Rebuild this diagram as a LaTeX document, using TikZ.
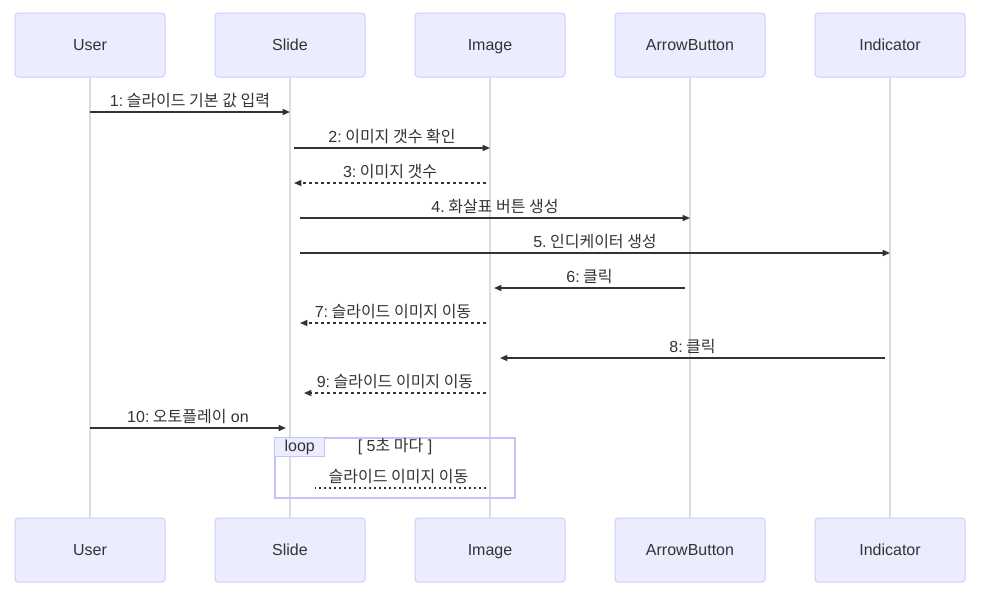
\documentclass[tikz,border=0pt]{standalone}
\usepackage{fontspec}
\setmainfont{Liberation Sans}
\newfontfamily\kr{Noto Sans CJK KR}
\usetikzlibrary{arrows.meta}
\definecolor{actfill}{HTML}{ECECFF}
\definecolor{actdraw}{HTML}{CCCCFF}
\definecolor{loopdraw}{HTML}{C4C4F8}
\definecolor{lifec}{HTML}{DDDDDD}
\definecolor{txt}{HTML}{333333}
\tikzset{
  actor/.style={draw=actdraw, fill=actfill, line width=0.75pt, rounded corners=2.5pt,
    minimum width=112.5pt, minimum height=48pt, inner sep=0pt, text=txt,
    text height=10.5pt, text depth=2pt},
  lifeline/.style={draw=lifec, line width=1.2pt},
  msg/.style={draw=txt, line width=1.1pt, -{Triangle[length=5.5pt,width=4.5pt]}},
  reply/.style={msg, dash pattern=on 2.25pt off 2.25pt},
  lbl/.style={midway, anchor=base, yshift=4.5pt, inner sep=0pt, text=txt},
}
\begin{document}
\begin{tikzpicture}[x=0.75pt, y=-0.75pt, font=\fontsize{12}{14}\selectfont]
\useasboundingbox (0,0) rectangle (982,594);
% actors
\node[actor] (uT) at (90,45) {User};
\node[actor] (sT) at (290,45) {Slide};
\node[actor] (iT) at (490,45) {Image};
\node[actor] (aT) at (690,45) {ArrowButton};
\node[actor] (nT) at (890,45) {Indicator};
\node[actor] (uB) at (90,550) {User};
\node[actor] (sB) at (290,550) {Slide};
\node[actor] (iB) at (490,550) {Image};
\node[actor] (aB) at (690,550) {ArrowButton};
\node[actor] (nB) at (890,550) {Indicator};
% lifelines
\draw[lifeline] (uT.south) -- (uB.north);
\draw[lifeline] (sT.south) -- (sB.north);
\draw[lifeline] (iT.south) -- (iB.north);
\draw[lifeline] (aT.south) -- (aB.north);
\draw[lifeline] (nT.south) -- (nB.north);
% message end points
\coordinate (m1a) at (90,112);  \coordinate (m1b) at (290,112);
\coordinate (m2a) at (294,148); \coordinate (m2b) at (490,148);
\coordinate (m3a) at (486,183); \coordinate (m3b) at (294,183);
\coordinate (m4a) at (300,218); \coordinate (m4b) at (690,218);
\coordinate (m5a) at (300,253); \coordinate (m5b) at (890,253);
\coordinate (m6a) at (685,288); \coordinate (m6b) at (494,288);
\coordinate (m7a) at (486,323); \coordinate (m7b) at (300,323);
\coordinate (m8a) at (885,358); \coordinate (m8b) at (500,358);
\coordinate (m9a) at (486,393); \coordinate (m9b) at (304,393);
\coordinate (m10a) at (90,428); \coordinate (m10b) at (286,428);
\coordinate (m11a) at (486,488); \coordinate (m11b) at (315,488);
% messages
\draw[msg] (m1a) -- node[lbl]{1:\hspace{2.6pt}{\kr 슬라이드 기본 값 입력}} (m1b);
\draw[msg] (m2a) -- node[lbl]{2:\hspace{2.6pt}{\kr 이미지 갯수 확인}} (m2b);
\draw[reply] (m3a) -- node[lbl]{3:\hspace{2.6pt}{\kr 이미지 갯수}} (m3b);
\draw[msg] (m4a) -- node[lbl]{4.\hspace{2.6pt}{\kr 화살표 버튼 생성}} (m4b);
\draw[msg] (m5a) -- node[lbl]{5.\hspace{2.6pt}{\kr 인디케이터 생성}} (m5b);
\draw[msg] (m6a) -- node[lbl]{6:\hspace{2.6pt}{\kr 클릭}} (m6b);
\draw[reply] (m7a) -- node[lbl]{7:\hspace{2.6pt}{\kr 슬라이드 이미지 이동}} (m7b);
\draw[msg] (m8a) -- node[lbl]{8:\hspace{2.6pt}{\kr 클릭}} (m8b);
\draw[reply] (m9a) -- node[lbl]{9:\hspace{2.6pt}{\kr 슬라이드 이미지 이동}} (m9b);
\draw[msg] (m10a) -- node[lbl]{10:\hspace{2.6pt}{\kr 오토플레이} on} (m10b);
% loop
\node[draw=loopdraw, line width=1.1pt, minimum width=180pt, minimum height=45pt, inner sep=0pt] (loop) at (395,468) {};
\node[draw=loopdraw, fill=actfill, line width=0.75pt, anchor=north west, minimum width=37.5pt, minimum height=14.25pt, inner sep=0pt, text=txt] (looplbl) at (loop.north west) {loop};
\node[text=txt, inner sep=0pt] (cond) at (395,447) {[ 5{\kr 초 마다} ]};
\draw[draw=txt, line width=1.1pt, dash pattern=on 1.5pt off 2.25pt] (m11a) -- node[lbl, xshift=-1.5pt]{{\kr 슬라이드 이미지 이동}} (m11b);
\end{tikzpicture}
\end{document}
